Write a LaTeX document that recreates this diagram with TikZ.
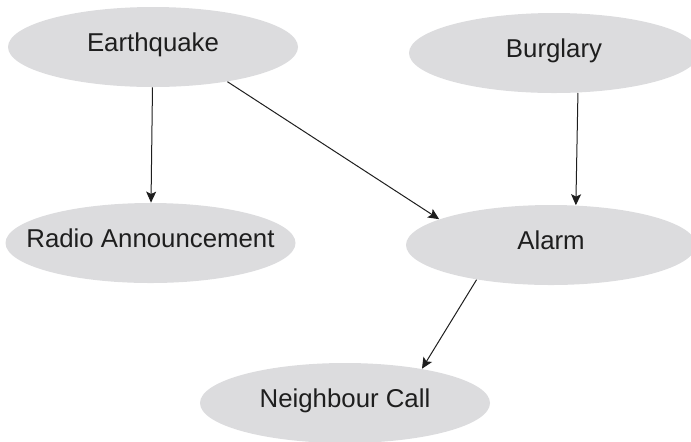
\documentclass[tikz,border=0pt]{standalone}
\usepackage{fontspec}
\setmainfont{Liberation Sans}
\usetikzlibrary{shapes.geometric,arrows.meta}
\definecolor{nodegray}{RGB}{220,220,222}
\definecolor{inkdark}{RGB}{30,30,30}
\begin{document}
\begin{tikzpicture}[x=0.5pt,y=-0.5pt,
  var/.style={ellipse, fill=nodegray, draw=none, inner sep=0pt,
    minimum width=145pt, minimum height=40pt,
    font=\fontsize{12.9pt}{15pt}\selectfont, text=inkdark,
    text height=0.72em, text depth=0.27em},
  % long labels: keep the ellipse at the common size
  widelabel/.style={inner xsep=-12pt},
  edge/.style={draw=inkdark, line width=0.5pt,
    -{Stealth[length=5.5pt,width=5pt,inset=1.2pt]}}]
\useasboundingbox (0,0) rectangle (691,441);
% variables of the network
\node[var] (eq)    at (153,47)  {Earthquake};
\node[var] (burg)  at (554,53)  {Burglary};
\node[var,widelabel] (radio) at (150.5,243) {Radio Announcement};
\node[var] (alarm) at (551,245) {Alarm};
\node[var] (call)  at (345,403) {Neighbour Call};
% dependencies
\draw[edge] (eq) -- (radio);
\draw[edge] (eq.-25.9) -- (alarm.167.1);
\draw[edge] (burg.-59.8) -- (alarm.58.7);
\draw[edge] (alarm.205.3) -- (call.24.9);
\end{tikzpicture}
\end{document}
